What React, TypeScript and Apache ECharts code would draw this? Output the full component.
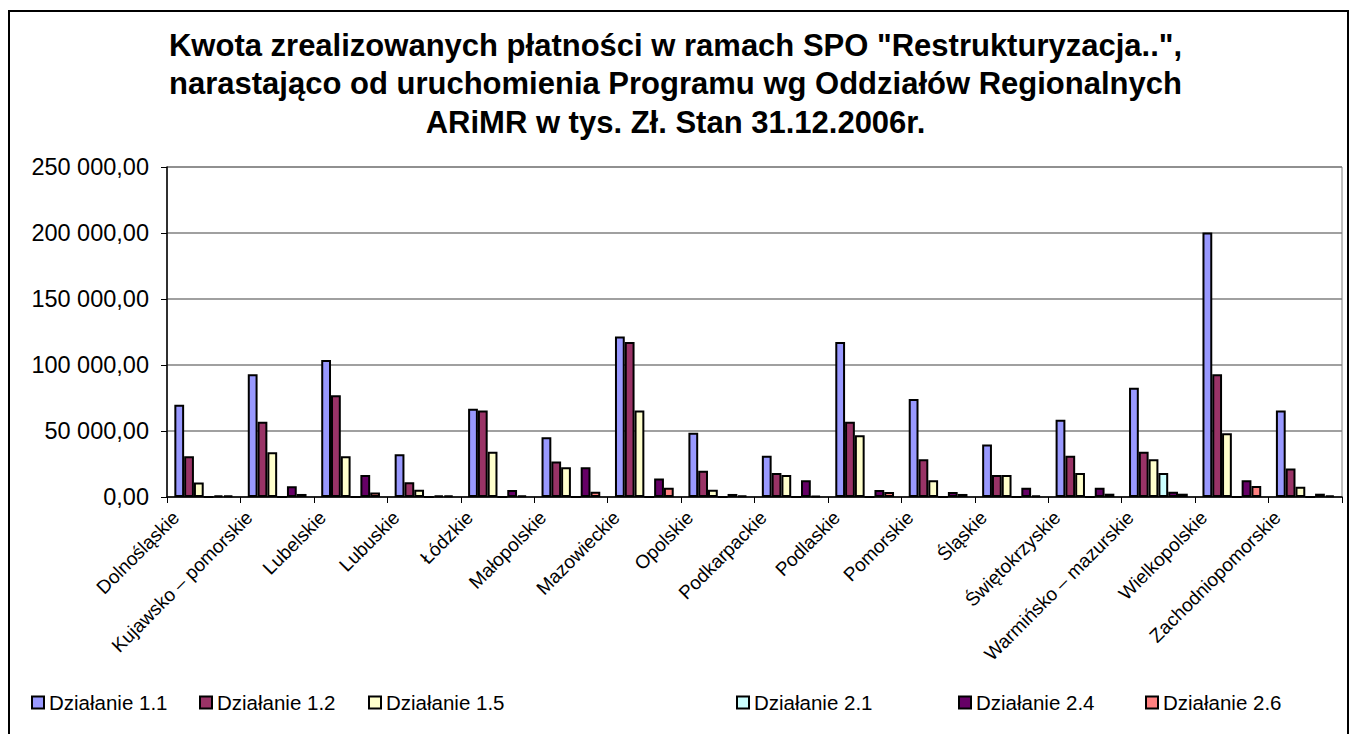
import React, { useEffect, useRef } from "react";
import * as echarts from "echarts";

const categories = [
  "Dolnośląskie",
  "Kujawsko – pomorskie",
  "Lubelskie",
  "Lubuskie",
  "Łódzkie",
  "Małopolskie",
  "Mazowieckie",
  "Opolskie",
  "Podkarpackie",
  "Podlaskie",
  "Pomorskie",
  "Śląskie",
  "Świętokrzyskie",
  "Warmińsko – mazurskie",
  "Wielkopolskie",
  "Zachodniopomorskie",
];

const seriesNames = [
  "Działanie 1.1",
  "Działanie 1.2",
  "Działanie 1.5",
  "Działanie 2.1",
  "Działanie 2.4",
  "Działanie 2.6",
];

const d11 = [69900, 93000, 103800, 32400, 66900, 45300, 121600, 48600, 31200, 117500, 74200, 39800, 58500, 82800, 200300, 65600];
const d12 = [30900, 57000, 77000, 11100, 65600, 26800, 117500, 19800, 18200, 57000, 28600, 16700, 31200, 34200, 93000, 21500];
const d15 = [10900, 33900, 30900, 5500, 34200, 22500, 65600, 5500, 16700, 46800, 12600, 16700, 18200, 28600, 48300, 7800];
const d21 = [0, 0, 0, 0, 0, 0, 0, 0, 0, 0, 0, 0, 0, 18200, 0, 0];
const d24 = [1200, 8100, 16700, 1000, 5300, 22500, 14100, 2300, 12600, 5300, 3800, 7100, 7100, 4000, 12600, 2500];
const d26 = [1000, 2300, 3500, 1000, 1000, 4000, 7100, 1000, 800, 3800, 2300, 1200, 2500, 2500, 8400, 1200];

const yTicks = [0, 50000, 100000, 150000, 200000, 250000];

const colors = ["#9999FF", "#993366", "#FFFFCC", "#CCFFFF", "#660066", "#FF8080"];
const allData = [d11, d12, d15, d21, d24, d26];
const legendLeft = [26, 194, 363, 731, 953, 1140];

const FONT = "Liberation Sans, Arial, sans-serif";

function fmt(v: number): string {
  const s = Math.round(v).toString().replace(/\B(?=(\d{3})+(?!\d))/g, " ");
  return s + ",00";
}

export default function App() {
  const ref = useRef<HTMLDivElement>(null);
  useEffect(() => {
    document.body.style.margin = "0";
    if (!ref.current) return;
    const chart = echarts.init(ref.current, undefined, { renderer: "svg" });
    chart.setOption({
      animation: false,
      backgroundColor: "#ffffff",
      textStyle: { fontFamily: FONT },
      title: {
        text:
          'Kwota zrealizowanych płatności w ramach SPO "Restrukturyzacja..",\nnarastająco od uruchomienia Programu wg Oddziałów Regionalnych\nARiMR w tys. Zł. Stan 31.12.2006r.',
        left: "center",
        top: 21,
        textStyle: {
          fontFamily: FONT,
          fontWeight: "bold",
          fontSize: 31,
          lineHeight: 38.5,
          color: "#000",
        },
      },
      legend: seriesNames.map((n, i) => ({
        data: [n],
        left: legendLeft[i],
        top: 687,
        icon: "rect",
        itemWidth: 12,
        itemHeight: 12,
        itemGap: 6,
        textStyle: { fontFamily: FONT, fontSize: 20.5, color: "#000" },
      })),
      grid: {
        left: 167,
        right: 9,
        top: 167,
        bottom: 237,
        show: true,
        borderColor: "#808080",
        borderWidth: 1,
      },
      xAxis: {
        type: "category",
        data: categories,
        boundaryGap: true,
        axisLine: { lineStyle: { color: "#000", width: 1.5 } },
        axisTick: { show: true, length: 6, inside: false, lineStyle: { color: "#000" } },
        axisLabel: {
          interval: 0,
          rotate: 45,
          fontFamily: FONT,
          fontSize: 19,
          color: "#000",
          margin: 3,
          verticalAlign: "bottom",
          padding: [0, 30, 0, 0],
        },
      },
      yAxis: {
        type: "value",
        min: 0,
        max: 250000,
        interval: 50000,
        axisLine: { show: true, lineStyle: { color: "#000", width: 1.5 } },
        axisTick: { show: true, length: 6, lineStyle: { color: "#000" } },
        splitLine: { lineStyle: { color: "#808080", width: 1.5 } },
        axisLabel: {
          fontFamily: FONT,
          fontSize: 23.5,
          color: "#000",
          margin: 18,
          formatter: (v: number) => (yTicks.includes(v) ? fmt(v) : ""),
        },
      },
      series: seriesNames.map((n, i) => ({
        name: n,
        type: "bar",
        data: allData[i],
        barGap: "0%",
        barCategoryGap: "20%",
        itemStyle: { color: colors[i], borderColor: "#000", borderWidth: 2 },
      })),
      graphic: [
        {
          type: "rect",
          shape: { x: 9, y: 11, width: 1339, height: 740 },
          style: { fill: "none", stroke: "#000", lineWidth: 2 },
          silent: true,
          z: 100,
        },
      ],
    });
    return () => chart.dispose();
  }, []);
  return <div ref={ref} style={{ width: 1351, height: 734 }} />;
}
